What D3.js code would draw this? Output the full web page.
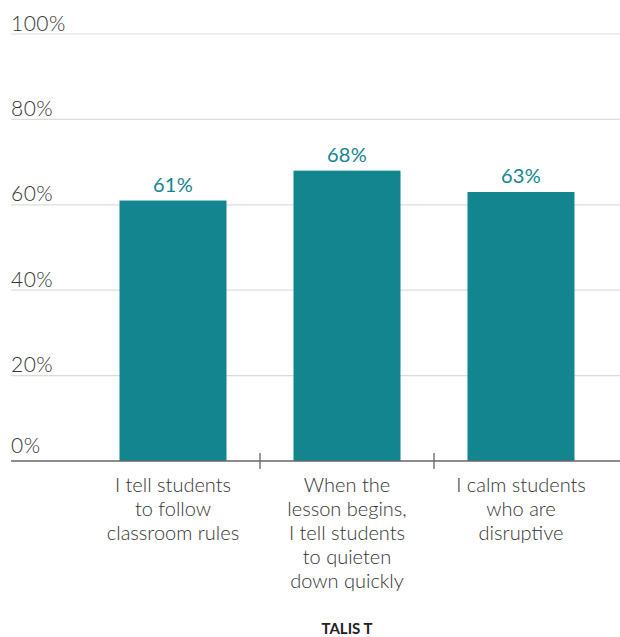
<!DOCTYPE html>
<html>
<head>
<meta charset="utf-8">
<script src="https://cdn.jsdelivr.net/npm/d3@7"></script>
<style>
  html, body { margin: 0; padding: 0; background: #fff; }
  svg { display: block; font-family: Lato, "Open Sans", sans-serif; }
</style>
</head>
<body>
<svg id="chart" width="620" height="637"></svg>
<script>
// Share of teachers reporting each classroom-management practice
const categories = [
  ["I tell students", "to follow", "classroom rules"],
  ["When the", "lesson begins,", "I tell students", "to quieten", "down quickly"],
  ["I calm students", "who are", "disruptive"]
];
const values = [61, 68, 63];
const yTicks = [0, 20, 40, 60, 80, 100];
const footer = "TALIS T";

const svg = d3.select("#chart");
const barColor = "#13858f";

const x = d3.scaleBand()
  .domain(d3.range(values.length))
  .range([86, 608])
  .paddingInner(0.385)
  .paddingOuter(0.1925);

const y = d3.scaleLinear().domain([0, 100]).range([461, 34]);

// Gridlines with labels sitting above each line
const grid = svg.append("g");
grid.selectAll("line").data(yTicks.filter(d => d > 0)).join("line")
  .attr("x1", 11).attr("x2", 620)
  .attr("y1", d => y(d)).attr("y2", d => y(d))
  .attr("stroke", "#dcdcdc").attr("stroke-width", 1.2);
grid.selectAll("text").data(yTicks).join("text")
  .attr("x", 11).attr("y", d => y(d) - (d === 0 ? 8 : 3.5))
  .attr("font-size", 21).attr("font-weight", 300).attr("fill", "#333")
  .attr("letter-spacing", 0.5)
  .text(d => d + "%");

// Bars
svg.append("g").selectAll("rect").data(values).join("rect")
  .attr("x", (d, i) => x(i))
  .attr("width", x.bandwidth())
  .attr("y", d => y(d))
  .attr("height", d => y(0) - y(d))
  .attr("fill", barColor);

// Value labels
svg.append("g").selectAll("text").data(values).join("text")
  .attr("x", (d, i) => x(i) + x.bandwidth() / 2)
  .attr("y", d => y(d) - 9)
  .attr("text-anchor", "middle")
  .attr("font-size", 20).attr("font-weight", 400).attr("fill", barColor)
  .attr("letter-spacing", 0.3)
  .text(d => d + "%");

// Baseline
svg.append("line")
  .attr("x1", 11).attr("x2", 620)
  .attr("y1", y(0)).attr("y2", y(0))
  .attr("stroke", "#666").attr("stroke-width", 1.5);

// Tick marks between categories
const step = x.step();
const boundaries = d3.range(1, values.length).map(i => x(i) - step * x.paddingInner() / 2);
svg.append("g").selectAll("line").data(boundaries).join("line")
  .attr("x1", d => d).attr("x2", d => d)
  .attr("y1", y(0) - 8).attr("y2", y(0) + 8)
  .attr("stroke", "#666").attr("stroke-width", 1.3);

// Category labels, wrapped over several lines
const cat = svg.append("g").selectAll("text").data(categories).join("text")
  .attr("text-anchor", "middle")
  .attr("font-size", 20).attr("font-weight", 300).attr("fill", "#333");
cat.each(function(lines, i) {
  const t = d3.select(this);
  lines.forEach((ln, j) => {
    t.append("tspan")
      .attr("x", x(i) + x.bandwidth() / 2)
      .attr("y", 492 + j * 24)
      .text(ln);
  });
});

// Footer
svg.append("text")
  .attr("x", 347).attr("y", 634)
  .attr("text-anchor", "middle")
  .attr("font-size", 15).attr("font-weight", 700).attr("fill", "#222")
  .text(footer);
</script>
</body>
</html>
